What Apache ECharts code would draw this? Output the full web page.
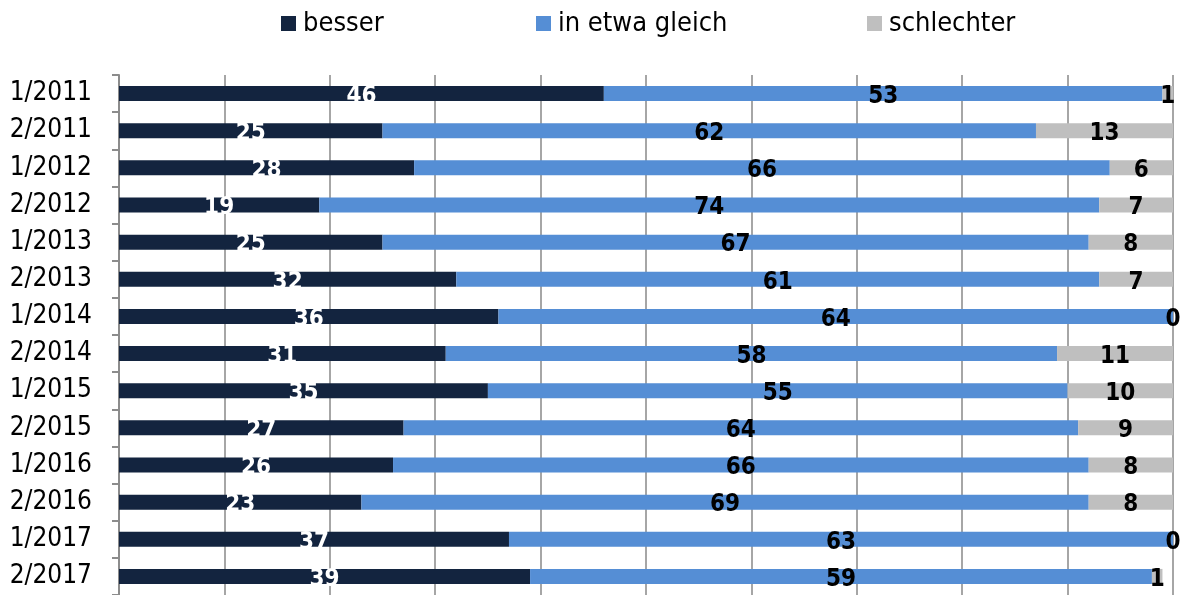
<!DOCTYPE html>
<html>
<head>
<meta charset="utf-8">
<script src="https://cdn.jsdelivr.net/npm/echarts@6/dist/echarts.min.js"></script>
<style>
  html, body {margin: 0; padding: 0; background: #fff;}
  #chart {width: 1187px; height: 595px;}
</style>
</head>
<body>
<div id="chart"></div>
<script>
const categories = ['1/2011', '2/2011', '1/2012', '2/2012', '1/2013', '2/2013', '1/2014',
  '2/2014', '1/2015', '2/2015', '1/2016', '2/2016', '1/2017', '2/2017']
const besser = [46, 25, 28, 19, 25, 32, 36, 31, 35, 27, 26, 23, 37, 39]
const gleich = [53, 62, 66, 74, 67, 61, 64, 58, 55, 64, 66, 69, 63, 59]
const schlechter = [1, 13, 6, 7, 8, 7, 0, 11, 10, 9, 8, 8, 0, 1]

const FONT = '"Liberation Sans Narrow", "Arial Narrow", "DejaVu Sans Condensed", sans-serif'

const chart = echarts.init(document.getElementById('chart'))

const mkSeries = (name, data, color, labelColor) => ({
  name,
  type: 'bar',
  stack: 'total',
  barWidth: 15,
  data,
  itemStyle: {color},
  label: {
    show: true,
    position: 'inside',
    offset: [0, 3],
    color: labelColor,
    fontFamily: FONT,
    fontWeight: 'bold',
    fontSize: 24
  }
})

// 三个图例分开放，位置对齐原图
const mkLegend = (name, left) => ({
  data: [name],
  top: 5,
  left,
  itemWidth: 15,
  itemHeight: 15,
  icon: 'rect',
  textStyle: {color: '#000', fontFamily: FONT, fontSize: 27, padding: [0, 0, 0, 2]}
})

chart.setOption({
  animation: false,
  backgroundColor: '#fff',
  legend: [
    mkLegend('besser', 276),
    mkLegend('in etwa gleich', 531),
    mkLegend('schlechter', 862)
  ],
  grid: {left: 119, right: 14, top: 75, bottom: 0, containLabel: false},
  xAxis: {
    type: 'value',
    min: 0,
    max: 100,
    interval: 10,
    axisLabel: {show: false},
    axisLine: {show: false},
    axisTick: {show: false},
    splitLine: {show: true, lineStyle: {color: '#a6a6a6', width: 2}}
  },
  yAxis: {
    type: 'category',
    inverse: true,
    data: categories,
    axisLine: {show: true, lineStyle: {color: '#8c8c8c', width: 2}},
    axisTick: {show: true, length: 7, lineStyle: {color: '#8c8c8c', width: 2}},
    axisLabel: {color: '#000', fontFamily: FONT, fontSize: 26, margin: 27, interval: 0}
  },
  series: [
    mkSeries('besser', besser, '#13243f', '#fff'),
    mkSeries('in etwa gleich', gleich, '#558ed5', '#000'),
    mkSeries('schlechter', schlechter, '#bfbfbf', '#000')
  ]
})
</script>
</body>
</html>
